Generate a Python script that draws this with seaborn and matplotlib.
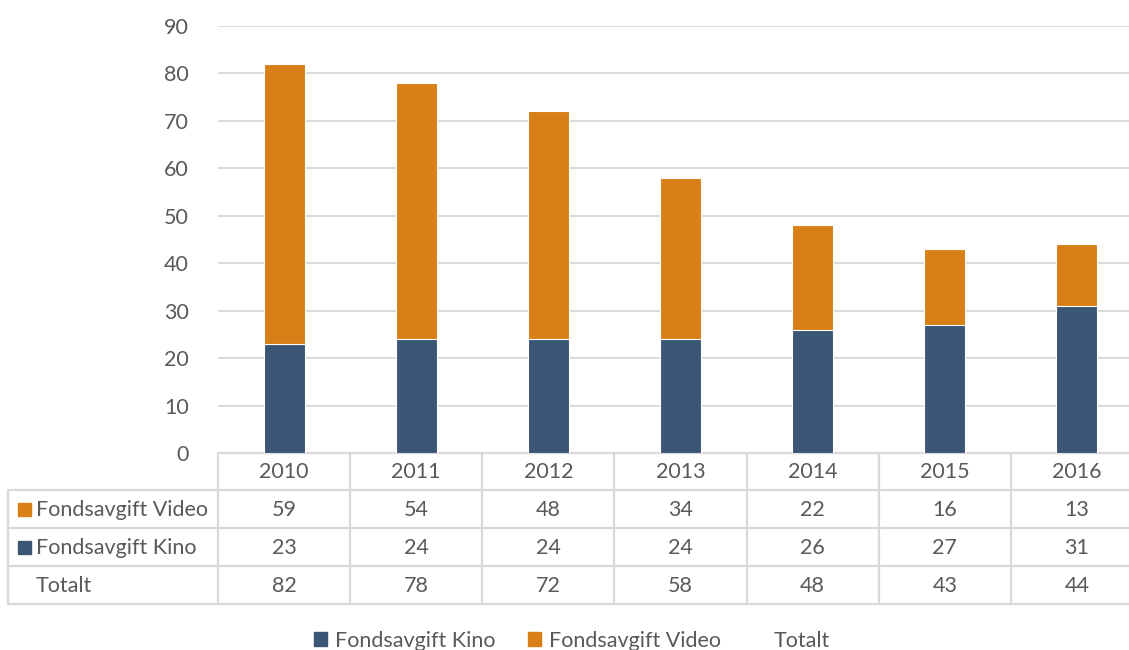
import matplotlib
matplotlib.use("Agg")
import matplotlib.pyplot as plt
import seaborn as sns
import pandas as pd
from matplotlib.transforms import blended_transform_factory
from matplotlib.patches import Patch, Rectangle
from matplotlib.lines import Line2D

# Fondsavgift per år (mill. kr)
years = ["2010", "2011", "2012", "2013", "2014", "2015", "2016"]
kino = [23, 24, 24, 24, 26, 27, 31]
video = [59, 54, 48, 34, 22, 16, 13]
totalt = [82, 78, 72, 58, 48, 43, 44]
series_names = ["Fondsavgift Kino", "Fondsavgift Video", "Totalt"]
y_ticks = [0, 10, 20, 30, 40, 50, 60, 70, 80, 90]

BLUE = "#3b5675"
ORANGE = "#d97f17"
GRID = "#d9d9d9"
TEXT = "#595959"
FS = 15.5

sns.set_theme(style="white")
plt.rcParams["font.family"] = ["Lato", "DejaVu Sans"]

W, H = 1129, 650
fig = plt.figure(figsize=(W / 100, H / 100), dpi=100)
ax = fig.add_axes([218 / W, (H - 453) / H, 925 / W, 427 / H])

df = pd.DataFrame({"År": years, "Kino": kino, "Video": video})
df["Stabel"] = df["Kino"] + df["Video"]

# stacked bars: full stack in orange, Kino part on top of it in blue
sns.barplot(data=df, x="År", y="Stabel", color=ORANGE, saturation=1,
            width=0.31, edgecolor="white", linewidth=0.8, ax=ax, zorder=3)
sns.barplot(data=df, x="År", y="Kino", color=BLUE, saturation=1,
            width=0.31, edgecolor="white", linewidth=0.8, ax=ax, zorder=3)

ax.set_xlim(-0.5, 6.5)
ax.set_ylim(0, 90)
ax.set_yticks(y_ticks)
ax.set_xticks([])
ax.set_xlabel("")
ax.set_ylabel("")
ax.yaxis.grid(True, color=GRID, linewidth=1.4, zorder=0)
ax.set_axisbelow(True)
for s in ax.spines.values():
    s.set_visible(False)
ax.tick_params(axis="y", labelsize=FS, labelcolor=TEXT, length=0, pad=21)

# data table under the plot
tr = blended_transform_factory(ax.transData, fig.transFigure)
fy = lambda px: 1 - px / H
x_left = -0.5 - (218 - 8) / (925 / 7)
x_right = 6.6
row_lines = [453, 490, 528, 566, 604]
lkw = dict(color=GRID, linewidth=1.6, transform=tr, clip_on=False, zorder=1)
ax.plot([-0.5, x_right], [fy(453)] * 2, **lkw)
for yp in row_lines[1:]:
    ax.plot([x_left, x_right], [fy(yp)] * 2, **lkw)
for i in range(8):
    ax.plot([i - 0.5] * 2, [fy(453), fy(604)], **lkw)
ax.plot([x_left] * 2, [fy(490), fy(604)], **lkw)

tkw = dict(transform=tr, fontsize=FS, color=TEXT, va="center", clip_on=False)
for i, yr in enumerate(years):
    ax.text(i, fy(472), yr, ha="center", **tkw)
rows = [("Fondsavgift Video", video, ORANGE),
        ("Fondsavgift Kino", kino, BLUE),
        ("Totalt", totalt, None)]
row_centers = [510, 548, 586]
px_to_data = 7 / 925
for (name, vals, col), yc in zip(rows, row_centers):
    for i, v in enumerate(vals):
        ax.text(i, fy(yc), f"{v}", ha="center", **tkw)
    tx = x_left + (36 - 8) * px_to_data
    ax.text(tx, fy(yc), name, ha="left", **tkw)
    if col:
        fig.patches.append(Rectangle((18 / W, fy(yc + 6)), 13 / W, 13 / H,
                                     transform=fig.transFigure, color=col))

handles = [Patch(color=BLUE), Patch(color=ORANGE), Line2D([], [], alpha=0)]
fig.legend(handles, series_names, ncol=3, loc="center",
           bbox_to_anchor=(572 / W, fy(641)), frameon=False, fontsize=FS,
           labelcolor=TEXT, handlelength=0.62, handleheight=0.62,
           handletextpad=0.35, columnspacing=1.5)

fig.savefig("out.png", dpi=100)
